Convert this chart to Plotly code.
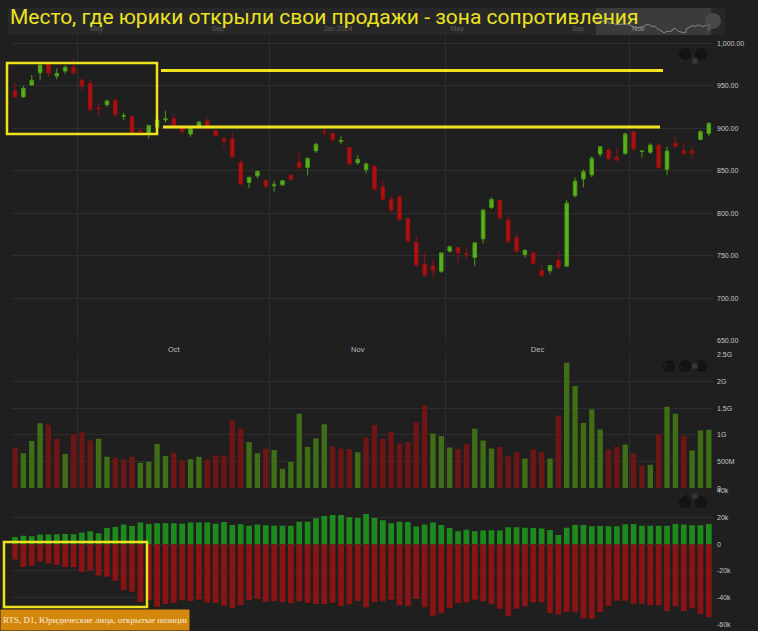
import pandas as pd
import plotly.graph_objects as go

# ---------------- data ----------------
dates = pd.bdate_range("2024-09-19", "2025-01-14")

opens = [944, 937, 951, 965.4, 975.6, 961.5, 967.4, 972, 956.8, 952.9,
         924, 927.8, 932.5, 914.3, 914.1, 897, 894.1, 901.2, 910, 911.3,
         902.7, 893.3, 901.2, 908.9, 897.2, 888.2, 887.4, 859.5, 836.5, 844.2,
         838.8, 832.5, 833.6, 844.7, 860.4, 854.1, 873.6, 896.5, 894, 884.5,
         877.6, 859.5, 851.3, 855.3, 831.3, 816.8, 819.5, 794.1, 765.9, 740.3,
         738.4, 732, 755.6, 760, 752.5, 748.2, 770.1, 807, 815.5, 792.1,
         771.3, 751.8, 753.6, 732.5, 732.5, 744.7, 738, 820.7, 840.4, 845.4,
         869.8, 874.5, 866.2, 870.6, 896, 872.8, 872, 880.3, 851.8, 882.4,
         873.6, 873.6, 887, 894.1]
highs = [954, 950, 962.7, 975, 977, 970.6, 974, 981.5, 957.6, 956.8,
         929.4, 934, 935.3, 918.4, 914.5, 901, 903.5, 910.5, 920.7, 916.8,
         904, 900.5, 908, 912, 898, 889, 894.8, 863.5, 843, 850.5,
         839.5, 838.4, 839.5, 846, 871.8, 865.5, 883, 899, 895, 891,
         878.5, 868.5, 860, 856.5, 838.8, 821, 821, 795, 773.3, 753.6,
         746.6, 754, 762, 761, 760.4, 766, 805, 819, 816.5, 796.8,
         777.2, 757, 755, 739.2, 739, 756, 815.7, 842.4, 851.8, 867.4,
         879, 877.6, 877.2, 895, 897.2, 873.6, 882.4, 883.5, 878.4, 890,
         883, 878.4, 898, 907]
lows = [936, 936, 950, 956.8, 960.7, 957.6, 963.9, 963, 944.7, 920.7,
        913.6, 925.4, 913.6, 909.8, 893.5, 894, 887.8, 900.5, 907, 903,
        895, 890.1, 900, 899, 890, 877.6, 866, 834, 829.4, 841.2,
        830.5, 825.4, 832.5, 839, 852, 844.7, 871, 891, 885, 881.5,
        857, 857, 847, 827.5, 815.8, 801, 791, 765, 737, 726,
        724.2, 730, 754, 742.4, 745.9, 738, 764.7, 805, 793.5, 766,
        755, 748.2, 740, 726, 728.6, 735, 737, 818.8, 830.6, 842.4,
        866.6, 863, 862, 869, 873.3, 866, 870, 853, 845, 877,
        869, 864.7, 886, 890.9]
closes = [937, 947, 956.5, 974.5, 965.0, 964.6, 971.8, 965.4, 949.8, 921.9,
          923, 932.1, 916, 914.8, 894.1, 896, 903.5, 909.8, 911, 903.5,
          896, 900, 907.4, 899.5, 891.3, 885, 866.6, 834.5, 842.4, 849.4,
          831.3, 833.5, 838.4, 840, 853.6, 864.7, 881.2, 895.5, 886.6, 885.5,
          858, 863.5, 858, 828.2, 816.5, 803.9, 792.9, 767.8, 739.2, 727.4,
          732.5, 753.6, 760.7, 753.6, 751.5, 765.4, 803.9, 816.5, 794.5, 766.6,
          755.6, 756.8, 741.2, 726.6, 738.8, 736, 812, 838, 849, 864.7,
          878.4, 864.2, 862.7, 893.3, 876, 873.4, 880.3, 853.6, 873.3, 878.8,
          870.6, 870.8, 896, 905.9]

volume_g = [0.763, 0.658, 0.889, 1.222, 1.19, 0.927, 0.645, 1.02, 1.052, 0.895,
            0.927, 0.594, 0.57, 0.538, 0.594, 0.481, 0.5, 0.833, 0.607, 0.669,
            0.526, 0.545, 0.594, 0.538, 0.613, 0.613, 1.278, 1.115, 0.87, 0.658,
            0.745, 0.72, 0.368, 0.494, 1.397, 0.776, 0.932, 1.203, 0.782, 0.745,
            0.739, 0.677, 0.951, 1.19, 0.932, 1.058, 0.846, 0.87, 1.24, 1.553,
            1.026, 0.983, 0.763, 0.733, 0.833, 1.115, 0.895, 0.745, 0.776, 0.607,
            0.677, 0.557, 0.726, 0.682, 0.557, 1.359, 2.355, 1.917, 1.227, 1.477,
            1.101, 0.726, 0.776, 0.82, 0.658, 0.432, 0.444, 1.015, 1.528, 1.397,
            0.983, 0.707, 1.083, 1.096]

oi_long_k = [5.5, 6.5, 6.0, 7.3, 7.3, 7.5, 7.8, 7.5, 8.8, 9.8,
             8.3, 12.3, 13.0, 14.8, 13.8, 16.3, 15.3, 15.8, 15.8, 15.8,
             15.5, 16.3, 16.3, 16.3, 15.5, 16.8, 14.5, 15.0, 14.0, 14.8,
             14.3, 14.0, 14.0, 14.0, 17.0, 17.0, 19.5, 21.3, 22.0, 22.0,
             20.3, 19.8, 22.8, 19.8, 18.0, 15.8, 17.0, 16.8, 13.3, 14.8,
             16.3, 14.5, 12.3, 9.8, 11.0, 9.8, 10.3, 10.5, 10.3, 12.8,
             12.8, 12.5, 12.3, 11.8, 10.8, 7.0, 12.5, 14.5, 14.5, 13.5,
             13.8, 13.5, 13.5, 15.0, 15.3, 14.0, 14.0, 14.0, 14.0, 15.3,
             14.8, 14.3, 14.3, 15.3]
oi_short_k = [-11.3, -17.0, -16.0, -12.8, -14.3, -15.5, -17.0, -17.0, -20.8, -19.5,
              -23.3, -24.3, -27.3, -34.3, -35.5, -43.3, -41.8, -46.8, -44.8, -43.8,
              -42.0, -42.5, -41.5, -43.5, -44.0, -46.0, -48.0, -45.5, -41.8, -40.8,
              -43.3, -42.5, -43.3, -44.0, -42.8, -43.8, -44.8, -44.8, -43.8, -46.3,
              -45.0, -42.5, -47.3, -43.3, -42.8, -41.5, -45.8, -46.3, -41.0, -47.3,
              -53.5, -51.8, -47.8, -44.0, -43.5, -41.5, -42.8, -45.0, -48.3, -53.8,
              -48.3, -46.5, -43.5, -43.5, -51.5, -52.8, -50.8, -51.0, -55.5, -55.8,
              -50.8, -46.0, -42.3, -42.3, -44.5, -44.5, -45.8, -45.8, -50.0, -46.5,
              -50.0, -48.0, -52.3, -54.5]

oi_tick_vals = [-60000, -40000, -20000, 0, 20000, 40000]
oi_tick_text = ["-60k", "-40k", "-20k", "0", "20k", "40k"]

nav_tick_dates = ["2023-05-01", "2023-09-01", "2024-01-01", "2024-05-01", "2024-09-01", "2024-11-01"]
nav_tick_text = ["May", "Sep", "Jan 2024", "May", "Sep", "Nov"]

title_text = "Место, где юрики открыли свои продажи - зона сопротивления"
label_text = "RTS, D1, Юридические лица, открытые позиции"

# ---------------- helpers ----------------
W, H = 758, 631
def fx(px):
    return px / W
def fy(py):
    return 1 - py / H

n = len(dates)
idx = list(range(n))
months = [(d.year, d.month) for d in dates]
bounds = [i - 0.5 for i in range(1, n) if months[i] != months[i - 1]]
groups = {}
for i, m in enumerate(months):
    groups.setdefault(m, []).append(i)
keys = list(groups)
mid_vals = [sum(groups[k]) / len(groups[k]) for k in keys[1:-1]]
mid_text = [dates[groups[k][0]].strftime("%b") for k in keys[1:-1]]

vol_up = [closes[0] >= opens[0]] + [closes[i] >= closes[i - 1] for i in range(1, n)]
vol_colors = ["#3f6e17" if u else "#6e1515" for u in vol_up]

BG = "#1f1f1f"
GRID = "#2e2e2e"
TICK = dict(family="Liberation Sans", size=7, color="#c8c8c8")
XDOM = [fx(12), fx(713)]
XRANGE = [-0.36, 83.5]

fig = go.Figure()

fig.add_trace(go.Candlestick(
    x=idx, open=opens, high=highs, low=lows, close=closes,
    increasing=dict(fillcolor="#58b318", line=dict(color="#4c9a16", width=1)),
    decreasing=dict(fillcolor="#b30f0f", line=dict(color="#951010", width=1)),
    whiskerwidth=0, xaxis="x", yaxis="y", showlegend=False, hoverinfo="skip"))

fig.add_trace(go.Bar(
    x=idx, y=[v * 1e9 for v in volume_g], marker=dict(color=vol_colors, line=dict(width=0)),
    width=0.64, xaxis="x2", yaxis="y2", showlegend=False, hoverinfo="skip"))

fig.add_trace(go.Bar(
    x=idx, y=[v * 1000 for v in oi_long_k], marker=dict(color="#1e8a1e", line=dict(width=0)),
    width=0.68, xaxis="x3", yaxis="y3", showlegend=False, hoverinfo="skip"))
fig.add_trace(go.Bar(
    x=idx, y=[v * 1000 for v in oi_short_k], marker=dict(color="#8a1414", line=dict(width=0)),
    width=0.68, xaxis="x3", yaxis="y3", showlegend=False, hoverinfo="skip"))

fig.add_trace(go.Scatter(
    x=list(dates), y=closes, mode="lines", line=dict(color="#8a8a8a", width=1),
    xaxis="x4", yaxis="y4", showlegend=False, hoverinfo="skip"))

minor_grid = dict(tickmode="array", tickvals=bounds, showgrid=True, gridcolor=GRID, gridwidth=1, ticks="")

common_y = dict(side="right", showline=False, zeroline=False, ticks="", gridcolor=GRID,
                gridwidth=1, tickfont=TICK, automargin=False, ticklabelstandoff=3)

fig.update_layout(
    width=W, height=H, margin=dict(l=0, r=0, t=0, b=0),
    paper_bgcolor=BG, plot_bgcolor=BG, template="none",
    font=dict(family="Liberation Sans", color="#c8c8c8"),
    barmode="overlay", boxgap=0.4, showlegend=False,
    xaxis=dict(domain=XDOM, range=XRANGE, anchor="y", tickmode="array", tickvals=mid_vals,
               ticktext=mid_text, showgrid=False, zeroline=False, showline=False, ticks="",
               tickfont=dict(family="Liberation Sans", size=7.5, color="#bdbdbd"),
               minor=minor_grid, rangeslider=dict(visible=False), automargin=False,
               ticklabelstandoff=2),
    yaxis=dict(domain=[fy(341), fy(36)], range=[650, 1008.6], anchor="x", dtick=50, tick0=650,
               tickformat=",.2f", **common_y),
    xaxis2=dict(domain=XDOM, range=XRANGE, anchor="y2", showticklabels=False, showgrid=False,
                zeroline=False, showline=False, ticks="", minor=minor_grid, automargin=False),
    yaxis2=dict(domain=[fy(488.3), fy(355)], range=[0, 2.5e9], anchor="x2", dtick=0.5e9,
                tickformat="~s", **common_y),
    xaxis3=dict(domain=XDOM, range=XRANGE, anchor="y3", showticklabels=False, showgrid=False,
                zeroline=False, showline=False, ticks="", automargin=False),
    yaxis3=dict(domain=[fy(624.3), fy(491)], range=[-60000, 40000], anchor="x3",
                tickmode="array", tickvals=oi_tick_vals, ticktext=oi_tick_text, **common_y),
    xaxis4=dict(domain=[fx(8), fx(725)], type="date", range=["2023-01-31", "2025-01-28"],
                anchor="y4", tickmode="array", tickvals=nav_tick_dates,
                ticktext=[t if i < len(nav_tick_text) - 1 else "<span style='color:#9a9a9a'>" + t + "</span>"
                          for i, t in enumerate(nav_tick_text)],
                ticklabelposition="inside", showgrid=False, zeroline=False, showline=False,
                ticks="", tickfont=dict(family="Liberation Sans", size=7, color="#5c5c5c"),
                automargin=False),
    yaxis4=dict(domain=[fy(35), fy(8)], range=[687, 1226], anchor="x4", visible=False),
)

shapes = []
# navigator background and selected window
shapes.append(dict(type="rect", xref="paper", yref="paper", x0=fx(8), x1=fx(725), y0=fy(35), y1=fy(8),
                   fillcolor="#272727", line=dict(width=0), layer="below"))
shapes.append(dict(type="rect", xref="x4", yref="y4 domain", x0=dates[0], x1=dates[-1], y0=0, y1=1,
                   fillcolor="rgba(85,85,85,0.45)", line=dict(width=0), layer="below"))

def circle(cx, cy, r, fill):
    return dict(type="circle", xref="paper", yref="paper", x0=fx(cx - r), x1=fx(cx + r),
                y0=fy(cy + r), y1=fy(cy - r), fillcolor=fill, line=dict(width=0), layer="above")

shapes.append(circle(713, 21, 8, "#484848"))
icon_pos = [(685, 54), (701, 54), (669, 366), (685, 366), (701, 366), (685, 502), (701, 502)]
for cx, cy in icon_pos:
    shapes.append(circle(cx, cy, 6, "#131313"))

YEL = "#efe21c"
def rect_px(x0, y0, x1, y1, w):
    return dict(type="rect", xref="paper", yref="paper", x0=fx(x0), x1=fx(x1), y0=fy(y1), y1=fy(y0),
                line=dict(color=YEL, width=w), fillcolor="rgba(0,0,0,0)", layer="above")
def hline_px(x0, x1, y, w):
    return dict(type="line", xref="paper", yref="paper", x0=fx(x0), x1=fx(x1), y0=fy(y), y1=fy(y),
                line=dict(color=YEL, width=w), layer="above")

shapes += [rect_px(7, 63, 157, 134, 2.5), hline_px(161, 663, 70.5, 3.2),
           hline_px(163, 660, 127, 3.2), rect_px(4, 542, 147, 607, 2.5)]
fig.update_layout(shapes=shapes)

annotations = [
    dict(text=title_text, xref="paper", yref="paper", x=fx(8), y=fy(17.5), xanchor="left",
         yanchor="middle", showarrow=False, font=dict(family="Roboto", size=21, color="#ece31f")),
    dict(text=label_text, xref="paper", yref="paper", x=0, y=0, xanchor="left", yanchor="bottom",
         showarrow=False, bgcolor="#d4870d", borderpad=2, width=184, height=16, align="left",
         font=dict(family="Liberation Serif", size=9, color="#f5eddc")),
    dict(text="||", xref="paper", yref="paper", x=fx(713), y=fy(21), showarrow=False,
         font=dict(size=7, color="#7a7a7a")),
]
for (cx, cy), g in zip(icon_pos, ["↓", "▣", "↑", "↓", "▣", "↑", "▣"]):
    annotations.append(dict(text=g, xref="paper", yref="paper", x=fx(cx), y=fy(cy), showarrow=False,
                            font=dict(size=8, color="#3a3a3a")))
fig.update_layout(annotations=annotations)

fig.write_html("out.html", config={"displayModeBar": False},
               post_script="document.body.style.margin='0';")
